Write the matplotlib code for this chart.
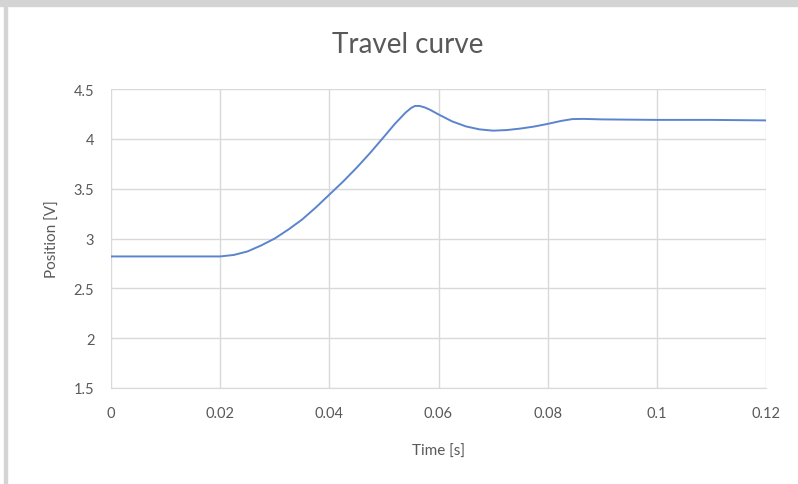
import matplotlib
matplotlib.use("Agg")
import matplotlib.pyplot as plt
from matplotlib.patches import Rectangle

# values
time_s = [0, 0.005, 0.01, 0.015, 0.02, 0.0225, 0.025, 0.0275, 0.03, 0.0325,
          0.035, 0.0375, 0.04, 0.0425, 0.045, 0.0475, 0.05, 0.052, 0.054, 0.055,
          0.0557, 0.0565, 0.0575, 0.0585, 0.06, 0.0625, 0.065, 0.0675, 0.07, 0.0725,
          0.075, 0.0775, 0.08, 0.0825, 0.0845, 0.0865, 0.09, 0.1, 0.11, 0.12]
position_v = [2.82, 2.82, 2.82, 2.82, 2.82, 2.835, 2.87, 2.93, 3.00, 3.09,
              3.19, 3.31, 3.44, 3.57, 3.71, 3.86, 4.02, 4.15, 4.265, 4.31,
              4.33, 4.33, 4.315, 4.29, 4.245, 4.175, 4.125, 4.095, 4.082, 4.088,
              4.103, 4.123, 4.15, 4.18, 4.198, 4.2, 4.195, 4.19, 4.19, 4.185]
x_ticks = [0, 0.02, 0.04, 0.06, 0.08, 0.1, 0.12]
x_labels = ["0", "0.02", "0.04", "0.06", "0.08", "0.1", "0.12"]
y_ticks = [1.5, 2, 2.5, 3, 3.5, 4, 4.5]
y_labels = ["1.5", "2", "2.5", "3", "3.5", "4", "4.5"]

plt.rcParams['font.family'] = ['Lato', 'DejaVu Sans']
text_col = "#595959"
grid_col = "#d9d9d9"

fig = plt.figure(figsize=(7.98, 4.85), dpi=100)
ax = fig.add_axes([111 / 798, 1 - 389 / 485, 655 / 798, 299 / 485])

ax.plot(time_s, position_v, color="#5b84cf", lw=1.4, solid_joinstyle="round")

ax.set_xlim(0, 0.12)
ax.set_ylim(1.5, 4.5)
ax.set_xticks(x_ticks)
ax.set_xticklabels(x_labels)
ax.set_yticks(y_ticks)
ax.set_yticklabels(y_labels)
ax.tick_params(length=0, labelsize=10.5, colors=text_col)
ax.tick_params(axis="x", pad=13)
ax.tick_params(axis="y", pad=12)
ax.grid(True, color=grid_col, lw=1)
ax.set_axisbelow(True)
for side in ["top", "right", "left"]:
    ax.spines[side].set_visible(False)
ax.spines["bottom"].set_color(grid_col)

ax.set_xlabel("Time [s]", color=text_col, fontsize=11, labelpad=17)
ax.set_ylabel("Position [V]", color=text_col, fontsize=11, labelpad=10)
fig.text(408 / 798, 1 - 45 / 485, "Travel curve", ha="center", va="center",
         fontsize=20, color=text_col)

# frame of the original screenshot
fig.patches.append(Rectangle((0, 1 - 7 / 485), 1, 7 / 485, transform=fig.transFigure,
                             color="#d4d4d4", zorder=0))
fig.patches.append(Rectangle((4 / 798, 0), 3 / 798, 1, transform=fig.transFigure,
                             color="#d4d4d4", zorder=0))

fig.savefig("out.png", dpi=100)
